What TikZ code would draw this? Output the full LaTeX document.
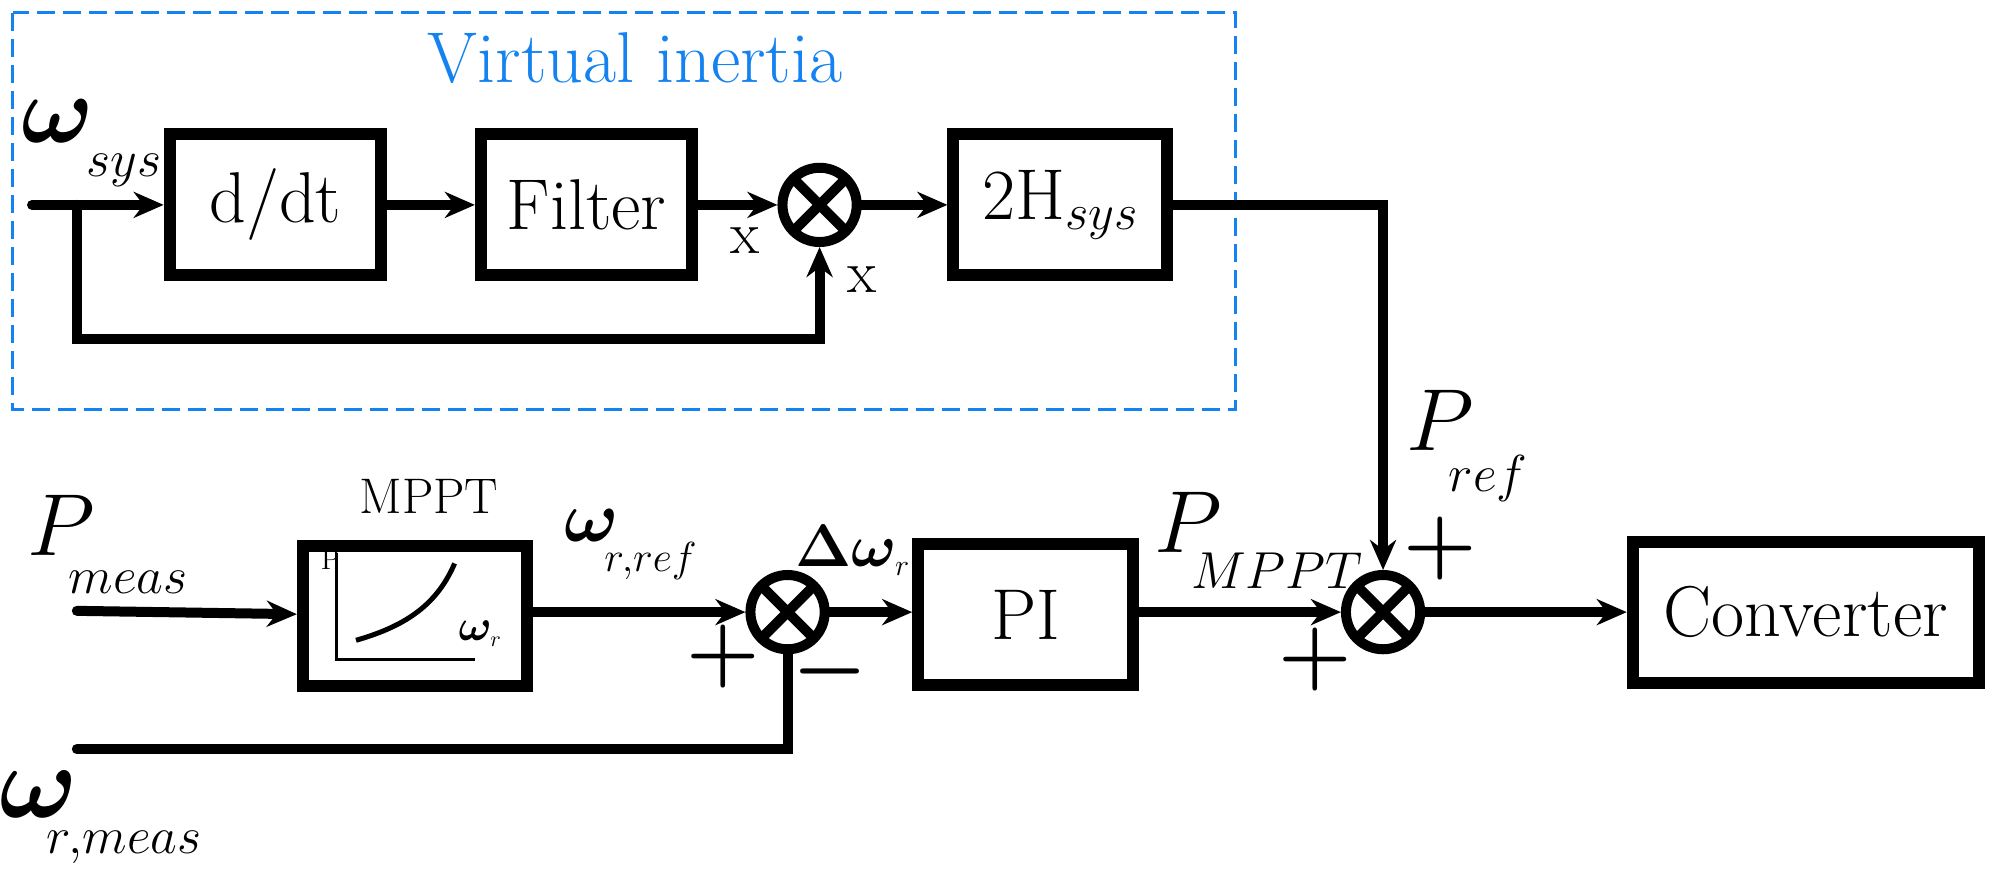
\RequirePackage{fix-cm}
\documentclass[tikz,border=0pt]{standalone}
\usepackage{amsmath,bm}
\usetikzlibrary{arrows.meta}
\definecolor{vblue}{RGB}{20,130,240}
\begin{document}
\begin{tikzpicture}[x=0.6403pt,y=-0.6403pt,
  blk/.style={draw,line width=6pt,minimum width=#1*0.6403pt,minimum height=110*0.6403pt,inner sep=0pt,font=\fontsize{36}{40}\selectfont},
  blk/.default=165,
  sum/.style={draw,circle,line width=5pt,minimum size=58*0.6403pt,inner sep=0pt,path picture={
     \draw[line width=5pt] (path picture bounding box.north west)--(path picture bounding box.south east)
       (path picture bounding box.north east)--(path picture bounding box.south west);}},
  w/.style={line width=5pt,line cap=round},
  a/.style={w,-{Stealth[length=15pt,width=13pt]}},
  lbl/.style={font=\fontsize{30}{34}\selectfont,inner sep=0pt},
  big/.style={font=\fontsize{40}{44}\selectfont,inner sep=0pt},
  sub/.style={font=\fontsize{26}{30}\selectfont,inner sep=0pt}]
\useasboundingbox (0,0) rectangle (1568,688);
\draw[vblue,line width=1.5pt,dash pattern=on 9pt off 4pt] (10,10) rectangle (965,320);
\node[lbl,text=vblue,font=\fontsize{36}{40}\selectfont] (vi) at (496,45) {Virtual inertia};
% top row
\coordinate (in1) at (25,160);
\node[blk] (ddt) at (215,160) {d/dt};
\node[blk] (filt) at (458,160) {Filter};
\node[sum] (s1) at (640,160) {};
\node[blk=167] (h) at (828,160) {2H$_{sys}$};
\coordinate (fb) at (60,160);
\draw[a] (in1) -- (ddt);
\draw[a] (ddt) -- (filt);
\draw[a] (filt) -- (s1);
\draw[a] (s1) -- (h);
\draw[a] (fb) -- (60,265) -- (640,265) -- (s1.south);
\node[big,font=\fontsize{48}{52}\selectfont] (wsys) at (45,95) {$\bm{\omega}$};
\node[sub] (wsysb) at (97,133) {$sys$};
\node[lbl] (x1) at (582,188) {x};
\node[lbl] (x2) at (673,218) {x};
% bottom row
\coordinate (in2) at (60,477);
\node[blk=175] (mppt) at (324,481) {};
\node[lbl,font=\fontsize{25}{28}\selectfont] (mpptl) at (335,388) {MPPT};
\draw[line width=1.5pt] (263,432) -- (263,515) -- (371,515);
\draw[line width=2.5pt] (278,500) .. controls (320,488) and (342,470) .. (355,440);
\node[inner sep=0pt,font=\fontsize{14}{16}\selectfont] (pax) at (258,437) {P};
\node[inner sep=0pt,font=\fontsize{22}{24}\selectfont] (wax) at (375,495) {$\bm{\omega}_{\scriptscriptstyle r}$};
\node[sum] (s2) at (615,478) {};
\node[blk=168] (pi) at (801,480) {PI};
\node[sum] (s3) at (1080,478) {};
\node[blk=270] (conv) at (1410,478) {Converter};
\draw[a] (in2) -- (mppt);
\draw[a] (mppt.east |- s2) -- (s2);
\draw[a] (s2) -- (pi.west |- s2);
\draw[a] (pi.east |- s3) -- (s3);
\draw[a] (s3) -- (conv.west |- s3);
\draw[a] (h.east) -- (1080,160) -- (s3.north);
\coordinate (in3) at (60,585);
\draw[w] (in3) -- (615,585) -- (s2.south);
\node[big,font=\fontsize{44}{48}\selectfont] (pm) at (48,410) {$P$};
\node[sub] (pmb) at (100,455) {$meas$};
\node[big,font=\fontsize{36}{40}\selectfont] (wref) at (462,410) {$\bm{\omega}$};
\node[sub,font=\fontsize{21}{24}\selectfont] (wrefb) at (508,438) {$r,\!ref$};
\node[big,font=\fontsize{30}{34}\selectfont] (dw) at (666,430) {$\bm{\Delta\omega}_{\scriptscriptstyle r}$};
\node[lbl,font=\fontsize{42}{46}\selectfont] (p1) at (565,513) {$\bm{+}$};
\node[lbl,font=\fontsize{42}{46}\selectfont] (m1) at (648,524) {$\bm{-}$};
\node[big,font=\fontsize{52}{56}\selectfont] (wm) at (30,620) {$\bm{\omega}$};
\node[sub] (wmb) at (97,662) {$r,\!meas$};
\node[big,font=\fontsize{44}{48}\selectfont] (pmp) at (928,408) {$P$};
\node[sub] (pmpb) at (997,446) {$MPPT$};
\node[big,font=\fontsize{44}{48}\selectfont] (pr) at (1125,328) {$P$};
\node[sub] (prb) at (1162,374) {$ref$};
\node[lbl,font=\fontsize{42}{46}\selectfont] (p2) at (1125,428) {$\bm{+}$};
\node[lbl,font=\fontsize{42}{46}\selectfont] (p3) at (1027,515) {$\bm{+}$};
\end{tikzpicture}
\end{document}
